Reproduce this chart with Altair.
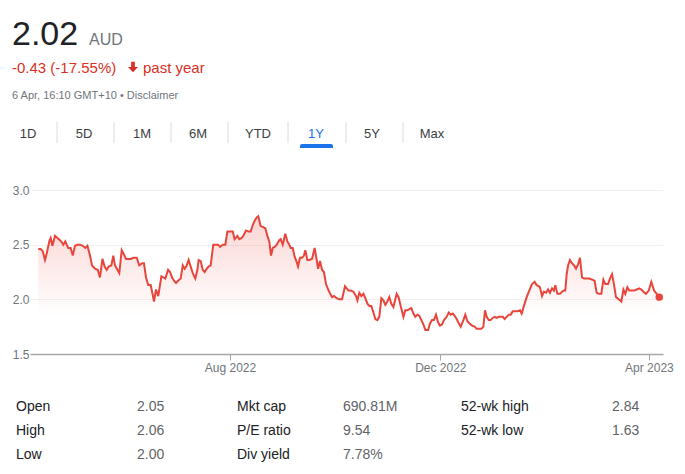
import altair as alt
import pandas as pd

# ---- data ----
start_date = "2022-04-07"
day_offsets = [
    4.8, 6.2, 7.4, 8.7, 9.7, 11.2, 12.0, 13.0, 14.5, 15.9, 17.4, 18.6, 19.3, 20.5, 21.3, 22.2,
    23.6, 24.8, 26.1, 27.5, 29.0, 30.6, 32.1, 33.3, 34.8, 36.0, 37.7, 39.3, 40.6, 42.0, 43.3,
    44.5, 45.6, 47.2, 48.3, 49.3, 50.7, 51.8, 53.2, 54.5, 55.7, 57.2, 58.6, 59.9, 61.9, 63.4,
    65.0, 66.1, 67.3, 68.6, 70.0, 71.2, 71.9, 73.1, 74.4, 76.2, 77.3, 78.5, 80.1, 81.2, 82.4,
    83.5, 84.7, 85.9, 87.4, 88.6, 89.7, 90.9, 92.0, 93.2, 94.4, 95.9, 97.1, 97.8, 99.0, 100.2,
    101.3, 102.5, 103.6, 104.8, 106.3, 107.9, 109.1, 110.2, 111.8, 113.3, 114.5, 116.0, 117.6,
    118.7, 120.3, 121.4, 122.6, 123.7, 125.3, 126.8, 128.0, 129.2, 130.3, 131.5, 132.4, 133.8,
    135.3, 136.5, 137.7, 138.8, 139.8, 140.8, 141.9, 143.1, 144.6, 145.4, 146.6, 148.1, 149.3,
    150.4, 151.2, 152.4, 153.5, 154.7, 155.5, 156.6, 157.8, 158.9, 159.7, 160.9, 162.0, 163.6,
    165.1, 166.3, 167.1, 168.2, 169.4, 170.5, 171.7, 173.2, 175.2, 176.3, 177.9, 179.4, 181.0,
    182.7,
    184.7, 186.0, 187.6, 189.1, 189.9, 191.0, 192.2, 193.4, 194.5, 195.7, 196.8, 198.0, 199.2,
    200.3, 201.5, 202.6, 203.8, 205.0, 206.1, 207.3, 208.4, 209.6, 210.8, 211.9, 212.7, 213.8,
    215.0, 216.6, 217.7, 218.9, 220.0, 221.2, 222.4, 223.5, 224.7, 225.8, 227.0, 228.2, 229.3,
    230.9, 232.0, 233.2, 234.3, 235.5, 236.7, 237.8, 239.0, 240.1, 241.7, 242.9, 244.0, 245.2,
    246.3, 247.5, 248.7, 249.8, 251.4, 252.5, 253.7, 254.8, 256.4, 257.9, 259.1, 260.6, 261.8,
    263.0, 263.9, 264.9, 266.1, 267.2, 268.4, 269.5, 270.7, 271.9, 273.0, 274.2, 275.3, 276.5,
    277.7, 278.8, 280.0, 281.5, 282.7, 284.2, 285.2, 286.5, 288.1, 289.6, 291.2, 292.7, 293.9,
    295.1, 295.8, 297.0, 298.1, 299.3, 300.5, 301.6, 302.8, 303.9, 304.7, 305.9, 307.4, 308.6,
    309.7, 310.5, 311.3, 312.1, 313.2, 314.4, 315.6, 316.7, 317.9, 319.0, 320.2, 321.4, 322.9,
    324.4, 326.0, 327.5, 328.7, 329.9, 331.4, 332.6, 333.7, 335.3, 336.4, 337.6, 338.8, 339.9,
    341.5, 343.0, 344.2, 345.3, 346.5, 347.6, 348.8, 350.4, 351.9, 353.4, 354.6, 355.8, 357.3,
    358.9, 360.4, 362.0, 363.5, 365.0,
]
prices = [
    2.46, 2.46, 2.44, 2.36, 2.42, 2.53, 2.56, 2.49, 2.58, 2.56, 2.54, 2.52, 2.50, 2.53, 2.50, 2.47,
    2.47, 2.40, 2.49, 2.50, 2.50, 2.49, 2.47, 2.49, 2.40, 2.31, 2.28, 2.27, 2.20, 2.37, 2.30,
    2.27, 2.30, 2.31, 2.40, 2.31, 2.27, 2.24, 2.45, 2.41, 2.37, 2.37, 2.37, 2.38, 2.38, 2.31,
    2.33, 2.33, 2.20, 2.13, 2.13, 2.04, 1.98, 2.09, 2.03, 2.21, 2.20, 2.19, 2.27, 2.25, 2.20,
    2.17, 2.15, 2.17, 2.19, 2.31, 2.28, 2.31, 2.36, 2.30, 2.24, 2.19, 2.27, 2.36, 2.35, 2.27,
    2.25, 2.28, 2.30, 2.31, 2.50, 2.50, 2.50, 2.48, 2.50, 2.50, 2.62, 2.62, 2.62,
    2.55, 2.58, 2.55, 2.56, 2.58, 2.63, 2.62, 2.62, 2.68, 2.72, 2.75, 2.76, 2.67,
    2.66, 2.65, 2.58, 2.53, 2.40, 2.47, 2.48, 2.50, 2.54, 2.55, 2.50, 2.60, 2.53,
    2.50, 2.47, 2.47, 2.39, 2.34, 2.30, 2.38, 2.38, 2.40, 2.45, 2.36, 2.36, 2.37,
    2.47, 2.36, 2.28, 2.35, 2.27, 2.25, 2.14, 2.08, 2.02, 2.03, 2.01, 2.00, 2.00,
    2.12,
    2.08, 2.08, 2.07, 2.03, 1.99, 2.06, 2.03, 2.05, 2.01, 1.96, 1.94, 1.94, 1.88,
    1.82, 1.81, 1.84, 2.01, 1.99, 1.95, 1.98, 2.02, 1.96, 1.93, 2.00, 2.05, 2.02,
    1.94, 1.84, 1.90, 1.90, 1.91, 1.92, 1.87, 1.84, 1.86, 1.85, 1.81, 1.77, 1.72,
    1.72, 1.78, 1.81, 1.81, 1.86, 1.79, 1.76, 1.77, 1.81, 1.84, 1.88, 1.86, 1.87,
    1.85, 1.82, 1.78, 1.75, 1.81, 1.86, 1.80, 1.78, 1.76, 1.75, 1.73, 1.73, 1.73,
    1.75, 1.90, 1.84, 1.81, 1.81, 1.83, 1.84, 1.83, 1.84, 1.84, 1.84, 1.82, 1.84,
    1.86, 1.86, 1.89, 1.89, 1.89, 1.90, 1.87, 1.94, 2.02, 2.08, 2.14, 2.16, 2.13,
    2.12, 2.11, 2.03, 2.07, 2.06, 2.09, 2.06, 2.10, 2.08, 2.13, 2.05, 2.05, 2.07,
    2.08, 2.08, 2.23, 2.31, 2.36, 2.33, 2.31, 2.28, 2.32, 2.38, 2.20, 2.19, 2.19,
    2.19, 2.18, 2.17, 2.06, 2.05, 2.05, 2.18, 2.14, 2.14, 2.19, 2.23, 2.13, 2.02,
    2.00, 1.98, 2.09, 2.05, 2.11, 2.08, 2.08, 2.08, 2.09, 2.10, 2.09, 2.07, 2.05,
    2.08, 2.16, 2.08, 2.05, 2.02,
]
y_ticks = [1.5, 2.0, 2.5, 3.0]
x_tick_dates = [(2022, 8, 1), (2022, 12, 1), (2023, 4, 1)]

price_text = "2.02"
currency_text = "AUD"
change_text = "-0.43 (-17.55%)"
period_text = "past year"
stamp_text = "6 Apr, 16:10 GMT+10 \u2022 Disclaimer"
tabs = ["1D", "5D", "1M", "6M", "YTD", "1Y", "5Y", "Max"]
active_tab = "1Y"

stat_labels = [["Open", "High", "Low"], ["Mkt cap", "P/E ratio", "Div yield"], ["52-wk high", "52-wk low"]]
stat_values = [["2.05", "2.06", "2.00"], ["690.81M", "9.54", "7.78%"], ["2.84", "1.63"]]

# ---- build ----
dates = pd.Timestamp(start_date) + pd.to_timedelta(day_offsets, unit="D")
df = pd.DataFrame({"date": dates.strftime("%Y-%m-%dT%H:%M:%S"), "price": prices})
last_df = df.tail(1)

FONT = "Liberation Sans"
RED = "#e8453c"
OX, OY = 30, 190  # plot origin in page pixels

x_scale = alt.Scale(domain=[alt.DateTime(year=2022, month=4, date=7),
                            alt.DateTime(year=2023, month=4, date=9, hours=4)])
y_scale = alt.Scale(domain=[1.5, 3.0], nice=False, zero=False)

x_enc = alt.X("date:T", scale=x_scale, title=None,
              axis=alt.Axis(values=[alt.DateTime(year=a, month=b, date=c) for a, b, c in x_tick_dates],
                            format="%b %Y", labelColor="#70757a", labelFontSize=12, labelFont=FONT,
                            domainColor="#a8a8a8", domainWidth=1.5, tickColor="#a8a8a8",
                            tickSize=6, labelPadding=2, grid=False, labelFlush=False))
y_enc = alt.Y("price:Q", scale=y_scale, title=None,
              axis=alt.Axis(values=y_ticks, format=".1f", labelColor="#70757a", labelFontSize=12,
                            labelFont=FONT, domain=False, ticks=False, labelPadding=1,
                            grid=True, gridColor="#f1f1f1", gridWidth=1))

base = alt.Chart(df)
area = base.mark_area(
    color=alt.Gradient(gradient="linear",
                       stops=[alt.GradientStop(color="rgba(234,67,53,0.22)", offset=0),
                              alt.GradientStop(color="rgba(234,67,53,0)", offset=0.72)],
                       x1=1, x2=1, y1=0, y2=1)
).encode(x=x_enc, y=y_enc, y2=alt.datum(1.5))
line = base.mark_line(color=RED, strokeWidth=2).encode(x=x_enc, y=y_enc)
dot = alt.Chart(last_df).mark_circle(color=RED, size=55, opacity=1).encode(x=x_enc, y=y_enc)

one = alt.Data(values=[{"k": 1}])


def txt(s, px, py, size, color, align="left", baseline="alphabetic", weight="normal"):
    return alt.Chart(one).mark_text(text=s, font=FONT, fontSize=size, color=color, align=align,
                                    baseline=baseline, fontWeight=weight).encode(
        x=alt.value(px - OX), y=alt.value(py - OY))


layers = [area, line, dot]
layers.append(txt(price_text, 12, 45, 34, "#202124"))
layers.append(txt(currency_text, 89, 45, 16, "#70757a"))
layers.append(txt(change_text, 12, 73, 15, "#d93025"))
arrow_path = "M-0.35,-1 L0.35,-1 L0.35,0 L0.95,0 L0,1 L-0.95,0 L-0.35,0 Z"
layers.append(alt.Chart(one).mark_point(shape=arrow_path, filled=True, color="#d93025", size=110,
                                        opacity=1).encode(x=alt.value(133 - OX), y=alt.value(67 - OY)))
layers.append(txt(period_text, 143, 73, 15, "#d93025"))
layers.append(txt(stamp_text, 12, 99, 11, "#70757a"))

tab_centers = [28, 84, 142, 198, 258, 316, 372, 432]
for name, cx in zip(tabs, tab_centers):
    layers.append(txt(name, cx, 138, 13, "#1a73e8" if name == active_tab else "#3c4043", align="center"))
for sx in [57, 114, 171, 228, 288, 346, 403]:
    layers.append(alt.Chart(one).mark_rule(color="#dadce0", strokeWidth=1).encode(
        x=alt.value(sx - OX), y=alt.value(122 - OY), y2=alt.value(143 - OY)))
layers.append(alt.Chart(one).mark_rect(color="#1a73e8", cornerRadiusTopLeft=3, cornerRadiusTopRight=3).encode(
    x=alt.value(300 - OX), x2=alt.value(333 - OX), y=alt.value(144 - OY), y2=alt.value(148 - OY)))

label_x = [16, 237, 461]
value_x = [137, 343, 612]
row_y = [407, 431, 455]
for c in range(3):
    for r, (lab, val) in enumerate(zip(stat_labels[c], stat_values[c])):
        layers.append(txt(lab, label_x[c], row_y[r], 14, "#202124", baseline="middle"))
        layers.append(txt(val, value_x[c], row_y[r], 14, "#5f6368", baseline="middle"))

chart = alt.layer(*layers).properties(
    width=633, height=164,
    autosize=alt.AutoSizeParams(type="none"),
    padding={"left": OX, "top": OY, "right": 22, "bottom": 120},
    background="white",
    view=alt.ViewBackground(stroke="transparent", strokeWidth=0),
).configure_view(strokeWidth=0, stroke="transparent").configure_axisX(grid=False).configure(font=FONT)

chart.save("out.html", embed_options={"renderer": "svg", "actions": False})
